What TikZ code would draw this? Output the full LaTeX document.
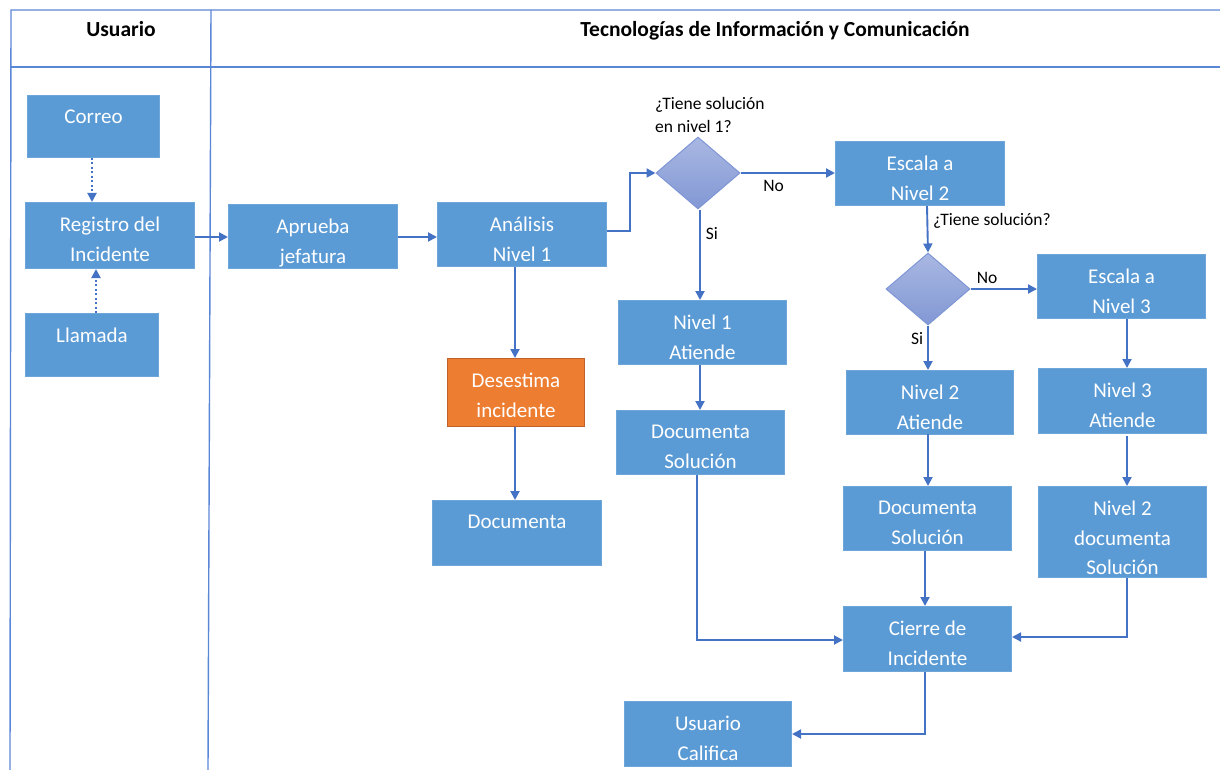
\documentclass[tikz,border=0pt]{standalone}
\usepackage{fontspec}
\setmainfont{Carlito}
\usetikzlibrary{arrows.meta,shapes.geometric}
\definecolor{boxblue}{HTML}{5B9BD5}
\definecolor{boxedge}{HTML}{6FA6DA}
\definecolor{arrowblue}{HTML}{4472C4}
\definecolor{lineblue}{HTML}{5A86D6}
\definecolor{orangefill}{HTML}{ED7D31}
\definecolor{orangeedge}{HTML}{C0602A}
\definecolor{diatop}{HTML}{A9B7E2}
\definecolor{diabot}{HTML}{8298D4}
\definecolor{diaedge}{HTML}{7F96D6}
\tikzset{
  blk/.style={draw=boxedge, line width=1pt, fill=boxblue, inner sep=0pt, anchor=north west},
  orangeblk/.style={draw=orangeedge, line width=1pt, fill=orangefill, inner sep=0pt, anchor=north west},
  btxt/.style={text=white, font=\fontsize{21}{29.5}\selectfont, align=center, inner sep=0pt, anchor=north},
  dia/.style={diamond, draw=diaedge, line width=1pt, top color=diatop, bottom color=diabot, inner sep=0pt, minimum width=84pt, minimum height=72pt, aspect=1.17},
  lbl/.style={text=black, font=\fontsize{17.5}{23}\selectfont, inner sep=0pt, align=left},
  hdr/.style={text=black, font=\fontsize{21.5}{24}\selectfont\bfseries, inner sep=0pt, anchor=base},
  conn/.style={draw=arrowblue, line width=1.9pt, -{Triangle[length=9pt,width=9pt]}},
  dconn/.style={conn, dash pattern=on 2pt off 2.5pt},
  frame/.style={draw=lineblue, line width=1.4pt}
}
\newcommand{\mkbox}[7]{% style, name, x1, y1, x2, y2, text
  \node[#1, minimum width=#5-#3, minimum height=#6-#4] (#2) at (#3,#4) {};
  \node[btxt] (#2-t) at ([yshift=-15pt]#2.north) {#7};
}
\begin{document}
\begin{tikzpicture}[x=1pt,y=-1pt]
\useasboundingbox (0,0) rectangle (1220,770);
% lanes
\coordinate (tl) at (11,10);
\coordinate (tr) at (1220,10);
\coordinate (hl) at (11,67);
\coordinate (hr) at (1220,67);
\coordinate (bl) at (10,770);
\coordinate (dt) at (211,10);
\coordinate (db) at (208,770);
\draw[frame] (bl) -- (tl) -- (tr);
\draw[frame] (hl) -- (hr);
\draw[frame] (dt) -- (db);
\node[hdr] (h1) at (121,37) {Usuario};
\node[hdr] (h2) at (775,37) {Tecnologías de Información y Comunicación};
% boxes
\mkbox{blk}{correo}{27}{95}{159}{157}{Correo}
\mkbox{blk}{registro}{25}{202}{194}{268}{Registro del\\Incidente}
\mkbox{blk}{llamada}{25}{313}{158}{376}{Llamada}
\mkbox{blk}{aprueba}{228}{204}{397}{268}{Aprueba\\jefatura}
\mkbox{blk}{analisis}{437}{202}{606}{266}{Análisis\\Nivel 1}
\mkbox{orangeblk}{desestima}{447}{358}{584}{426}{Desestima\\incidente}
\mkbox{blk}{documenta}{432}{500}{601}{565}{Documenta}
\mkbox{blk}{escala2}{835}{141}{1004}{205}{Escala a\\Nivel 2}
\mkbox{blk}{n1atiende}{618}{300}{786}{364}{Nivel 1\\Atiende}
\mkbox{blk}{docsol1}{616}{410}{784}{474}{Documenta\\Solución}
\mkbox{blk}{escala3}{1037}{254}{1205}{318}{Escala a\\Nivel 3}
\mkbox{blk}{n2atiende}{846}{370}{1013}{434}{Nivel 2\\Atiende}
\mkbox{blk}{n3atiende}{1038}{368}{1206}{433}{Nivel 3\\Atiende}
\mkbox{blk}{docsol2}{843}{486}{1011}{550}{Documenta\\Solución}
\mkbox{blk}{n2doc}{1038}{486}{1206}{577}{Nivel 2\\documenta\\Solución}
\mkbox{blk}{cierre}{843}{606}{1011}{671}{Cierre de\\Incidente}
\mkbox{blk}{califica}{624}{701}{791}{766}{Usuario\\Califica}
% diamonds
\node[dia] (d1) at (698,173) {};
\node[dia] (d2) at (928,289) {};
\node[lbl, anchor=north west] (q1) at (655,97) {¿Tiene solución\\en nivel 1?};
\node[lbl, anchor=west] (q2) at (933,221) {¿Tiene solución?};
% connectors
\draw[dconn] (correo.south -| 92,0) -- (registro.north -| 92,0);
\draw[dconn] (llamada.north -| 96,0) -- (registro.south -| 96,0);
\draw[conn] (registro.east |- 0,237) -- (aprueba.west |- 0,237);
\draw[conn] (aprueba.east |- 0,237) -- (analisis.west |- 0,237);
\draw[conn] (analisis.east |- 0,231) -- (630,231) -- (630,173) -- (d1.west);
\draw[conn] (d1.east) -- (escala2.west |- d1.east) node[lbl, pos=0.35, below=6pt] (no1) {No};
\draw[conn] (d1.south -| 700,0) -- (n1atiende.north -| 700,0) node[lbl, pos=0.27, right=5pt] (si1) {Si};
\draw[conn] (analisis.south -| 515,0) -- (desestima.north -| 515,0);
\draw[conn] (desestima.south -| 515,0) -- (documenta.north -| 515,0);
\draw[conn] (n1atiende.south -| 700,0) -- (docsol1.north -| 700,0);
\draw[conn] (docsol1.south -| 697,0) -- (697,640) -- (cierre.west |- 0,640);
\draw[conn] (escala2.south -| 927,0) -- (d2.north);
\draw[conn] (d2.east) -- (escala3.west |- d2.east) node[lbl, pos=0.25, above=4pt] (no2) {No};
\draw[conn] (d2.south) -- (n2atiende.north -| d2.south) node[lbl, pos=0.3, left=4pt] (si2) {Si};
\draw[conn] (escala3.south -| 1127,0) -- (n3atiende.north -| 1127,0);
\draw[conn] (928,434) -- (docsol2.north -| 928,0);
\draw[conn] (1127,436) -- (n2doc.north -| 1127,0);
\draw[conn] (docsol2.south -| 925,0) -- (cierre.north -| 925,0);
\draw[conn] (n2doc.south -| 1127,0) -- (1127,637) -- (cierre.east |- 0,637);
\draw[conn] (cierre.south -| 925,0) -- (925,734) -- (califica.east |- 0,734);
\end{tikzpicture}
\end{document}
